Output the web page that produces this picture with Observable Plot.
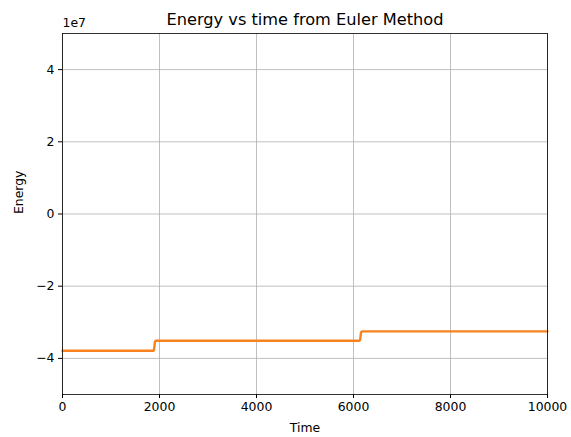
<!DOCTYPE html>
<html>
<head>
<meta charset="utf-8">
<script src="https://cdn.jsdelivr.net/npm/d3@7"></script>
<script src="https://cdn.jsdelivr.net/npm/@observablehq/plot@0.6"></script>
<style>
  html, body { margin: 0; padding: 0; background: #fff; }
  #chart { width: 571px; height: 437px; }
</style>
</head>
<body>
<div id="chart"></div>
<script>
const time   = [0, 1875, 1888, 1896, 1905, 1920, 6125, 6138, 6146, 6155, 6178, 10000];
const energy = [-3.79e7, -3.79e7, -3.76e7, -3.66e7, -3.54e7, -3.51e7, -3.51e7, -3.48e7, -3.38e7, -3.28e7, -3.25e7, -3.25e7];
const xTicks = [0, 2000, 4000, 6000, 8000, 10000];
const yTicks = [-4e7, -2e7, 0, 2e7, 4e7];
const title = "Energy vs time from Euler Method";
const xLabel = "Time";
const yLabel = "Energy";
const yExponent = "1e7";

const data = time.map((t, i) => ({t, e: energy[i]}));
const fmtY = d => String(d / 1e7).replace("-", "\u2212");

const chart = Plot.plot({
  width: 571,
  height: 437,
  marginLeft: 62,
  marginRight: 24,
  marginTop: 33,
  marginBottom: 43,
  style: {fontFamily: "DejaVu Sans", color: "#000", background: "#fff", overflow: "visible"},
  x: {domain: [0, 10000]},
  y: {domain: [-5e7, 5e7]},
  marks: [
    Plot.gridX(xTicks, {stroke: "#b0b0b0", strokeOpacity: 1, strokeWidth: 0.8}),
    Plot.gridY(yTicks, {stroke: "#b0b0b0", strokeOpacity: 1, strokeWidth: 0.8}),
    Plot.line(data, {x: "t", y: "e", stroke: "#f8821f", strokeWidth: 2.4}),
    Plot.frame({stroke: "#000", strokeWidth: 0.8}),
    Plot.axisX({ticks: xTicks, tickSize: 4, tickPadding: 4, fontSize: 12.4, label: null, tickFormat: d => String(d)}),
    Plot.axisY({ticks: yTicks, tickSize: 4, tickPadding: 4, fontSize: 12.4, label: null, tickFormat: fmtY}),
    Plot.text([title], {frameAnchor: "top", dy: -14, fontSize: 16.2, lineAnchor: "middle"}),
    Plot.text([xLabel], {frameAnchor: "bottom", dy: 34, fontSize: 12.4, lineAnchor: "middle"}),
    Plot.text([yLabel], {frameAnchor: "left", dx: -43, rotate: -90, fontSize: 12.4, lineAnchor: "middle"}),
    Plot.text([yExponent], {frameAnchor: "top-left", dy: -10, textAnchor: "start", fontSize: 12.4, lineAnchor: "middle"})
  ]
});
document.getElementById("chart").append(chart);
</script>
</body>
</html>
